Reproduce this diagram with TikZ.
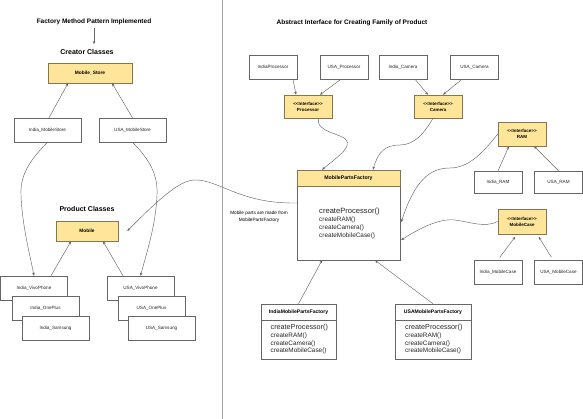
\documentclass[tikz,border=0pt]{standalone}
\usepackage{fontspec}
\setmainfont{Liberation Sans}
\usetikzlibrary{arrows.meta}
\definecolor{yel}{HTML}{FFE599}
\definecolor{ybord}{HTML}{857550}
\definecolor{lgray}{HTML}{666666}
\newcommand{\ifc}{{<}{<}Interface{>}{>}}
\begin{document}
\begin{tikzpicture}[x=1pt,y=-1pt,
  box/.style={draw=lgray, fill=white, line width=0.45pt, inner sep=0pt, font=\fontsize{4.6}{5.5}\selectfont, text=black!85},
  ybox/.style={draw=ybord, fill=yel, line width=0.5pt, inner sep=0pt, align=center, font=\bfseries\fontsize{4.8}{5.8}\selectfont},
  ibox/.style={ybox, font=\bfseries\fontsize{4.5}{6}\selectfont},
  ttl/.style={inner sep=1pt, font=\bfseries\fontsize{6.5}{7.5}\selectfont},
  ttlb/.style={inner sep=1pt, font=\bfseries\fontsize{7}{8}\selectfont},
  meth/.style={inner sep=0pt, anchor=west, text=black!85, font=\fontsize{6.4}{7}\selectfont},
  methb/.style={inner sep=0pt, anchor=west, text=black!85, font=\fontsize{7.6}{8}\selectfont},
  arr/.style={draw=lgray, line width=0.45pt, -{Stealth[length=3.2pt,width=2.6pt]}},
  curv/.style={draw=lgray, line width=0.45pt, -{Stealth[length=3.2pt,width=2.6pt]}}
]
\useasboundingbox (0,0) rectangle (583,419);
\fill[white] (0,0) rectangle (583,419);

% divider
\coordinate (d1) at (222.5,0);
\coordinate (d2) at (222.5,419);
\draw[gray!70, line width=1.1pt] (d1) -- (d2);

% ---------- left side ----------
\node[ttl] (t1) at (94,22) {Factory Method Pattern Implemented};
\node[ttlb] (t2) at (87,52) {Creator Classes};
\node[ttlb] (t3) at (87,209) {Product Classes};
\draw[arr] ([yshift=-2pt]t1.south -| 94,0) -- ([yshift=4pt]t1.south |- t2.north);

\node[ybox, minimum width=84pt, minimum height=20pt] (mstore) at (90,73) {Mobile\_Store};
\node[box, minimum width=67pt, minimum height=24pt] (istore) at (47.5,130) {India\_MobileStore};
\node[box, minimum width=67pt, minimum height=24pt] (ustore) at (132.5,130) {USA\_MobileStore};
\node[ybox, minimum width=62pt, minimum height=20pt] (mobile) at (87,231) {Mobile};

\node[box, minimum width=67pt, minimum height=24pt] (ivivo) at (34,288) {India\_VivoPhone};
\node[box, minimum width=67pt, minimum height=24pt] (ione) at (45.5,308) {India\_OnePlus};
\node[box, minimum width=67pt, minimum height=24pt] (isam) at (55.5,328) {India\_Samsung};
\node[box, minimum width=67pt, minimum height=24pt] (uvivo) at (140.5,288) {USA\_VivoPhone};
\node[box, minimum width=67pt, minimum height=24pt] (uone) at (151.5,308) {USA\_OnePlus};
\node[box, minimum width=67pt, minimum height=24pt] (usam) at (161.5,328) {USA\_Samsung};

\draw[arr] ([xshift=1.5pt]istore.north) -- ([xshift=-22pt]mstore.south);
\draw[arr] (ustore.north) -- ([xshift=22pt]mstore.south);
\draw[arr] ([xshift=17pt]ivivo.north) -- ([xshift=-16pt]mobile.south);
\draw[arr] ([xshift=-17.5pt]uvivo.north) -- ([xshift=16pt]mobile.south);

\draw[curv] (istore.south) .. controls (30,160) and (20,175) .. (21,195)
  .. controls (22,225) and (30,255) .. (ivivo.north);
\draw[curv] (ustore.south) .. controls (150,160) and (158,175) .. (157,195)
  .. controls (156,225) and (146,255) .. (uvivo.north);

% ---------- right side ----------
\node[ttl] (t4) at (352,23) {Abstract Interface for Creating Family of Product};

\node[box, minimum width=48pt, minimum height=24pt] (iproc) at (273,67) {IndiaProcessor};
\node[box, minimum width=48pt, minimum height=24pt] (uproc) at (344,67) {USA\_Processor};
\node[box, minimum width=48pt, minimum height=24pt] (icam) at (403,67) {India\_Camera};
\node[box, minimum width=48pt, minimum height=24pt] (ucam) at (474.5,67) {USA\_Camera};
\node[ibox, minimum width=48pt, minimum height=23pt] (procI) at (308,106.5) {\ifc\\Processor};
\node[ibox, minimum width=48pt, minimum height=23pt] (camI) at (438,106.5) {\ifc\\Camera};

\node[ibox, minimum width=48pt, minimum height=24pt] (ramI) at (522,134) {\ifc\\RAM};
\node[box, minimum width=48pt, minimum height=22pt] (iram) at (498,182) {India\_RAM};
\node[box, minimum width=48pt, minimum height=22pt] (uram) at (558.5,182) {USA\_RAM};
\node[ibox, minimum width=48pt, minimum height=25pt] (caseI) at (522,221.5) {\ifc\\MobileCase};
\node[box, minimum width=48pt, minimum height=24pt] (icase) at (498,272) {India\_MobileCase};
\node[box, minimum width=48pt, minimum height=24pt] (ucase) at (558.5,272) {USA\_MobileCase};

% MobilePartsFactory
\node[box, minimum width=103pt, minimum height=90pt] (mpf) at (348.5,215) {};
\node[ybox, minimum width=103pt, minimum height=16pt, anchor=north, font=\bfseries\fontsize{5.2}{6}\selectfont] (mpfh) at (mpf.north) {MobilePartsFactory};
\node[methb] (m1) at (319,212) {createProcessor()};
\node[meth] (m2) at (319,220) {createRAM()};
\node[meth] (m3) at (319,228) {createCamera()};
\node[meth] (m4) at (319,236) {createMobileCase()};

\node[inner sep=0pt, align=center, font=\fontsize{4.7}{7.5}\selectfont] (note) at (259,217) {Mobile parts are made from\\MobilePartsFactory};

% India / USA factories
\node[box, minimum width=75pt, minimum height=55pt] (imf) at (298.5,331.5) {};
\node[box, minimum width=75pt, minimum height=16pt, anchor=north, font=\bfseries\fontsize{5.1}{6}\selectfont, text=black] (imfh) at (imf.north) {IndiaMobilePartsFactory};
\node[methb, font=\fontsize{7.2}{8}\selectfont] (i1) at (270.5,328) {createProcessor()};
\node[meth] (i2) at (270.5,336) {createRAM()};
\node[meth] (i3) at (270.5,343.5) {createCamera()};
\node[meth] (i4) at (270.5,351) {createMobileCase()};

\node[box, minimum width=76pt, minimum height=55pt] (umf) at (433,331.5) {};
\node[box, minimum width=76pt, minimum height=16pt, anchor=north, font=\bfseries\fontsize{5.1}{6}\selectfont, text=black] (umfh) at (umf.north) {USAMobilePartsFactory};
\node[methb, font=\fontsize{7.2}{8}\selectfont] (u1) at (405,328) {createProcessor()};
\node[meth] (u2) at (405,336) {createRAM()};
\node[meth] (u3) at (405,343.5) {createCamera()};
\node[meth] (u4) at (405,351) {createMobileCase()};

% straight arrows right
\draw[arr] ([xshift=20pt]iproc.south) -- ([xshift=-12pt]procI.north);
\draw[arr] ([xshift=-3pt]uproc.south) -- ([xshift=12pt]procI.north);
\draw[arr] ([xshift=12pt]icam.south) -- ([xshift=-10pt]camI.north);
\draw[arr] ([xshift=-12.5pt]ucam.south) -- ([xshift=5pt]camI.north);
\draw[arr] (iram.north) -- ([xshift=-13pt]ramI.south);
\draw[arr] (uram.north) -- ([xshift=12pt]ramI.south);
\draw[arr, shorten <=3pt, shorten >=3pt] (icase.north) -- ([xshift=-5pt]caseI.south);
\draw[arr, shorten <=3pt, shorten >=3pt] ([xshift=-5.5pt]ucase.north) -- ([xshift=15pt]caseI.south);
\draw[arr] (imf.north) -- ([xshift=-26.5pt]mpf.south);
\draw[arr] (umf.north) -- ([xshift=26.5pt]mpf.south);

% curves into MobilePartsFactory
\draw[curv] ([xshift=11pt]procI.south) .. controls (315,128) and (330,132) .. (340,136)
  .. controls (358,143) and (340,155) .. ([xshift=-26.5pt]mpf.north);
\draw[curv] ([xshift=-5pt]camI.south) .. controls (425,132) and (415,145) .. (400,145)
  .. controls (385,145) and (378,152) .. ([xshift=24.5pt]mpf.north);
\draw[curv] (ramI.west) .. controls (485,150) and (470,168) .. (450,168)
  .. controls (430,168) and (415,180) .. ([xshift=1pt,yshift=-7pt]mpf.east);
\draw[curv] (caseI.west) .. controls (485,228) and (470,222) .. (455,220)
  .. controls (440,218) and (420,228) .. ([xshift=1pt,yshift=-25pt]mpf.east);

% curve from MobilePartsFactory to Mobile
\draw[curv] ([yshift=12pt]mpf.west) .. controls (240,204) and (220,180) .. (195,180)
  .. controls (180,180) and (160,198) .. ([xshift=9pt]mobile.east);

\end{tikzpicture}
\end{document}
